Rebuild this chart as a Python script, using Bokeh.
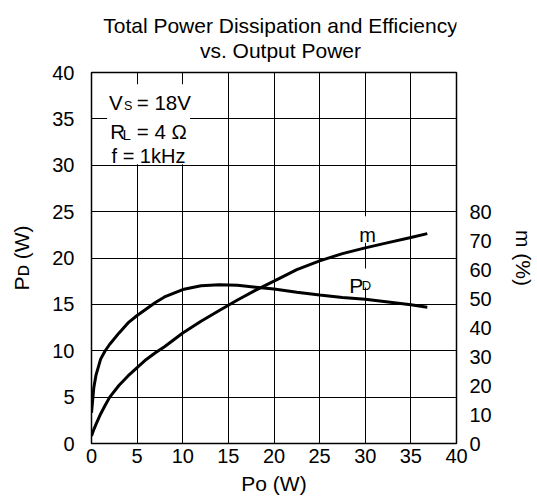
from bokeh.plotting import figure
from bokeh.layouts import column
from bokeh.models import Range1d, LinearAxis, Label, BoxAnnotation, FixedTicker
from bokeh.embed import file_html
from bokeh.resources import INLINE

# ---- data ----
po = [0, 0.25, 0.5, 1, 1.5, 2, 3, 4, 5, 6, 7, 8, 10, 12, 14, 16, 18, 20,
      22.5, 25, 27.5, 30, 32.5, 35, 36.8]
pd_w = [3.3, 6.0, 7.4, 9.1, 10.0, 10.7, 11.9, 13.0, 13.8, 14.5, 15.2, 15.8,
        16.6, 17.0, 17.12, 17.05, 16.85, 16.65, 16.3, 16.0, 15.75, 15.55,
        15.25, 14.95, 14.7]
eff = [2.6, 4.8, 6.7, 10.2, 13.2, 16.0, 20.0, 23.3, 26.2, 29.0, 31.3, 33.4,
       38.1, 42.2, 45.9, 49.5, 52.9, 56.0, 60.0, 63.0, 65.5, 67.5, 69.3,
       71.1, 72.4]
x_ticks = [0, 5, 10, 15, 20, 25, 30, 35, 40]
left_ticks = [0, 5, 10, 15, 20, 25, 30, 35, 40]
right_ticks = [0, 10, 20, 30, 40, 50, 60, 70, 80]
title_lines = ["Total Power Dissipation and Efficiency", "vs. Output Power"]

FONT = "Liberation Sans"

# ---------- title strip ----------
tp = figure(width=537, height=62, x_range=Range1d(0, 537), y_range=Range1d(0, 62),
            output_backend="svg", toolbar_location=None,
            x_axis_location=None, y_axis_location=None,
            min_border_left=0, min_border_right=0, min_border_top=0,
            min_border_bottom=0)
tp.grid.visible = False
tp.outline_line_color = None
for txt, yb in zip(title_lines, [36.6, 12.1]):
    tp.add_layout(Label(x=278, y=yb, text=txt, text_font=FONT, text_font_size="21px",
                        text_color="black", text_align="center",
                        text_baseline="alphabetic"))

# ---------- main chart ----------
p = figure(width=537, height=442, x_range=Range1d(0, 40), y_range=Range1d(0, 40),
           output_backend="svg", toolbar_location=None,
           min_border_left=91, min_border_right=77, min_border_top=10,
           min_border_bottom=61)
p.extra_y_ranges = {"eff": Range1d(0, 128)}

p.outline_line_color = "black"
p.outline_line_width = 1.5
p.outline_line_alpha = 1


def style_axis(ax, standoff):
    ax.axis_line_color = None
    ax.major_tick_line_color = None
    ax.minor_tick_line_color = None
    ax.major_tick_out = 0
    ax.major_tick_in = 0
    ax.major_label_text_font = FONT
    ax.major_label_text_font_size = "20px"
    ax.major_label_text_color = "black"
    ax.major_label_standoff = standoff
    ax.axis_label_text_font = FONT
    ax.axis_label_text_font_size = "21px"
    ax.axis_label_text_font_style = "normal"
    ax.axis_label_text_color = "black"


xax = p.xaxis[0]
yax = p.yaxis[0]
style_axis(xax, 5)
style_axis(yax, 17)
xax.ticker = FixedTicker(ticks=x_ticks)
yax.ticker = FixedTicker(ticks=left_ticks)
xax.axis_label = "Pᴏ (W)"
xax.axis_label_standoff = 6
yax.axis_label = "Pᴅ (W)"
yax.axis_label_standoff = 16

rax = LinearAxis(y_range_name="eff", ticker=FixedTicker(ticks=right_ticks))
style_axis(rax, 13)
rax.axis_label = "m (%)"
rax.axis_label_standoff = 17
p.add_layout(rax, "right")

p.xgrid.grid_line_color = "black"
p.ygrid.grid_line_color = "black"
p.xgrid.grid_line_alpha = 1
p.ygrid.grid_line_alpha = 1
p.xgrid.grid_line_width = 1
p.ygrid.grid_line_width = 1

# white patches that hide the grid behind the texts (drawn under the curves)
for l, r, b, t in [(1.71, 10.8, 30.1, 38.73), (29.0, 31.5, 21.65, 24.5),
                   (28.0, 31.0, 16.83, 18.88)]:
    p.add_layout(BoxAnnotation(left=l, right=r, bottom=b, top=t, fill_color="white",
                               fill_alpha=1, line_color=None, level="underlay"))

# curves
p.line(po, pd_w, line_color="black", line_width=3)
p.line(po, eff, line_color="black", line_width=3, y_range_name="eff")


def lab(x, y, text, size="20.5px", xo=0, yo=0):
    p.add_layout(Label(x=x, y=y, text=text, x_offset=xo, y_offset=yo, text_font=FONT,
                       text_font_size=size, text_color="black", text_align="left",
                       text_baseline="alphabetic"))


# conditions
lab(1.92, 36.73, "V")
lab(1.92, 36.73, "S", size="12.5px", xo=15, yo=-3.3)
lab(1.92, 36.73, "= 18V", xo=27.7)
lab(1.92, 33.64, "R", xo=1.3)
lab(1.92, 33.64, "L", size="15px", xo=13.6, yo=-3.3)
lab(1.92, 33.64, "= 4 Ω", xo=27.7)
lab(1.92, 31.01, "f = 1kHz", size="20px", xo=2.5)

# curve labels
lab(29.34, 22.44, "m", size="20px")
lab(28.26, 17.04, "P", size="21px")
lab(28.26, 17.04, "D", size="13px", xo=12.3)

open("out.html", "w").write(file_html(column(tp, p), INLINE))
